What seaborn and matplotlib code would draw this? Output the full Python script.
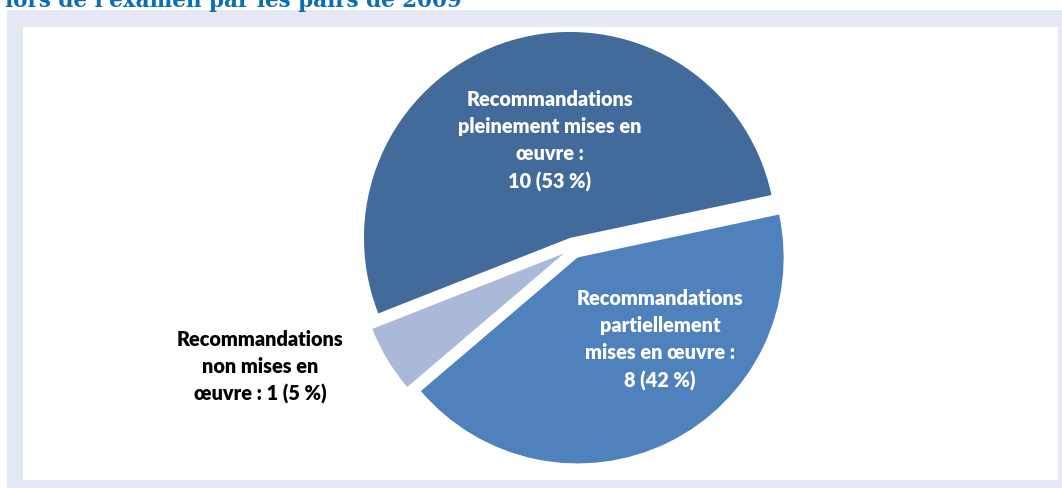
import matplotlib
matplotlib.use("Agg")
import matplotlib.pyplot as plt
from matplotlib.patches import Rectangle
import seaborn as sns

# Data
categories = [
    "Recommandations\npleinement mises en\nœuvre :",
    "Recommandations\npartiellement\nmises en œuvre :",
    "Recommandations\nnon mises en\nœuvre :",
]
counts = [10, 8, 1]
percents = [53, 42, 5]
title = "lors de l'examen par les pairs de 2009"

colors = sns.color_palette(["#426A9B", "#4F81BD", "#AAB9D7"])

sns.set_theme(style="white")
plt.rcParams["font.family"] = ["Lato", "DejaVu Sans"]

W, H = 1062, 488
fig = plt.figure(figsize=(W / 100, H / 100), dpi=100)
ax = fig.add_axes([0, 0, 1, 1])

# Frame: light band with white panel inside
ax.add_patch(Rectangle((7, 0), W - 7, 478, facecolor="#E3E8F3", edgecolor="none", zorder=0))
ax.add_patch(Rectangle((23, 8), 1035, 453, facecolor="white", edgecolor="none", zorder=1))

# Pie (clockwise, every wedge pulled out from the centre)
cx, cy, r = 573, H - 248, 206
wedges, _ = ax.pie(
    counts,
    colors=colors,
    startangle=201.5,
    counterclock=False,
    explode=[10.5, 10.5, 10.5],
    center=(cx, cy),
    radius=r,
    frame=True,
    wedgeprops=dict(linewidth=0),
)
for w in wedges:
    w.set_zorder(2)
ax.set_xlim(0, W)
ax.set_ylim(0, H)
ax.set_aspect("equal")
ax.set_axis_off()

labels = []
for i, cat in enumerate(categories):
    if i == 2:
        parts = cat.split("\n")
        parts[-1] = f"{parts[-1]} {counts[i]} ({percents[i]} %)"
        labels.append("\n".join(parts))
    else:
        labels.append(f"{cat}\n{counts[i]} ({percents[i]} %)")

label_pos = [(550, H - 141), (660, H - 340), (260, H - 367)]
label_col = ["white", "white", "black"]
for txt, (x, y), c in zip(labels, label_pos, label_col):
    ax.text(x, y, txt, ha="center", va="center", color=c, fontsize=14.3,
            fontweight="heavy", linespacing=1.5, zorder=3)

# Heading (partly outside the figure)
ax.text(5, H - 6.5, title, ha="left", va="baseline", color="#0A6FB7", fontsize=15.5,
        fontweight="bold", family=["DejaVu Serif"], clip_on=False, zorder=3)

fig.savefig("out.png", dpi=100)
